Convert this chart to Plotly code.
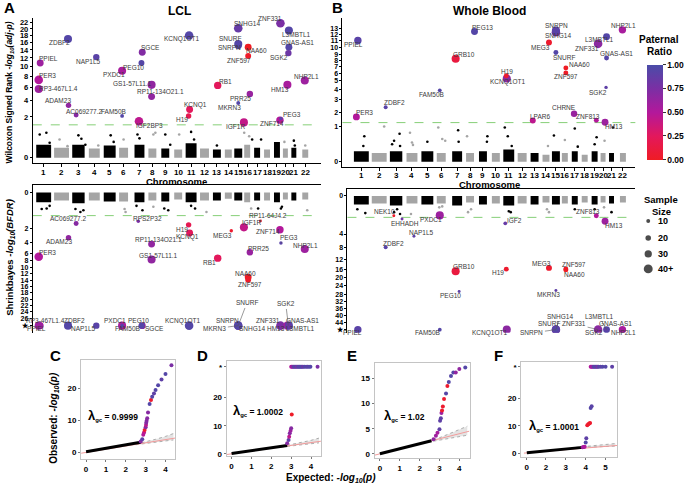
import numpy as np
import plotly.graph_objects as go

W, H = 685, 486
FONT = "Liberation Sans, Arial, sans-serif"
INF = float("inf")

# ---------------- data ----------------
CHROMS = [str(i) for i in range(1, 23)]
CHR_CENTER = [11, 29, 46, 62, 77.5, 91.5, 107.5, 120.5, 133.5, 146.5, 159.5, 173,
              185.5, 197, 207, 216, 226, 236, 246, 254.5, 263, 274.5]
CHR_WIDTH = [15, 15, 12.5, 11, 12, 9, 10, 8, 8, 8, 11, 9, 8, 7, 8, 6, 6, 6, 6, 5, 5, 6]

GENE_POS = {
    "PPIEL": 7.5, "PER3": 6, "RP3-467L1.4": 6, "ZDBF2": 35.5, "ADAM23": 36,
    "AC069277.2": 43.7, "NEK10": 43.7, "EHHADH": 52, "NAP1L5": 64, "FAM50B": 90,
    "PXDC1": 90, "GRB10": 106, "RPS2P32": 106.3, "IGF2BP3": 107, "PEG10": 109.5,
    "SGCE": 110.3, "GS1-57L11.1": 119.7, "RP11-134O21.1": 119.7, "PEG13": 125,
    "IGF2": 156, "H19": 157, "KCNQ1OT1": 157.5, "KCNQ1": 158, "LPAR6": 183.7,
    "RB1": 186.3, "MEG3": 200, "SNHG14": 207, "SNURF": 207, "SNRPN": 207,
    "MKRN3": 207, "IGF1R": 212.7, "NAA60": 217, "ZNF597": 217, "PRR25": 218.7,
    "CHRNE": 225.3, "RP11-64J4.2": 229.3, "ZNF813": 247.7, "ZNF714": 249,
    "ZNF331": 249.5, "PEG3": 250, "HM13": 256.5, "SGK2": 257.5, "L3MBTL1": 258,
    "GNAS-AS1": 258, "NHP2L1": 274,
}

LCL_RATIO = {"PPIEL": 0.6, "PER3": 0.5, "RP3-467L1.4": 0.6, "ZDBF2": 0.95, "NAP1L5": 0.92,
             "ADAM23": 0.65, "AC069277.2": 0.7, "FAM50B": 0.95, "IGF2BP3": 0.45, "PXDC1": 0.55,
             "PEG10": 0.95, "SGCE": 0.72, "GS1-57L11.1": 0.65, "RP11-134O21.1": 0.65,
             "KCNQ1OT1": 0.95, "KCNQ1": 0.25, "H19": 0.2, "RB1": 0.25, "SNHG14": 0.85,
             "SNURF": 0.95, "SNRPN": 0.95, "NAA60": 0.0, "ZNF597": 0.03, "ZNF331": 0.75,
             "L3MBTL1": 0.95, "GNAS-AS1": 0.95, "SGK2": 0.82, "NHP2L1": 0.6, "HM13": 0.55,
             "PRR25": 0.62, "MKRN3": 0.95, "IGF1R": 0.42, "ZNF714": 0.5, "PEG3": 0.92,
             "RPS2P32": 0.75, "MEG3": 0.05, "RP11-64J4.2": 0.05}
LCL_N = {"PPIEL": 28, "PER3": 38, "RP3-467L1.4": 35, "ZDBF2": 35, "NAP1L5": 25, "ADAM23": 19,
         "AC069277.2": 16, "FAM50B": 9, "IGF2BP3": 38, "PXDC1": 35, "PEG10": 22, "SGCE": 28,
         "GS1-57L11.1": 35, "RP11-134O21.1": 28, "KCNQ1OT1": 38, "KCNQ1": 28, "H19": 19,
         "RB1": 31, "SNHG14": 38, "SNURF": 35, "SNRPN": 28, "NAA60": 28, "ZNF597": 22,
         "ZNF331": 38, "L3MBTL1": 35, "GNAS-AS1": 28, "SGK2": 25, "NHP2L1": 35, "HM13": 35,
         "PRR25": 25, "MKRN3": 10, "IGF1R": 35, "ZNF714": 31, "PEG3": 7, "RPS2P32": 7,
         "MEG3": 7, "RP11-64J4.2": 4}
LCL_WILCOXON = {"PPIEL": 10.8, "PER3": 7.3, "RP3-467L1.4": 5.7, "ZDBF2": 17.0, "NAP1L5": 12.2,
                "ADAM23": 3.3, "AC069277.2": 2.2, "FAM50B": 2.1, "IGF2BP3": 1.6, "PXDC1": 9.1,
                "PEG10": 10.8, "SGCE": 13.4, "GS1-57L11.1": 6.4, "RP11-134O21.1": 4.5,
                "KCNQ1OT1": 18.0, "KCNQ1": 2.8, "H19": 2.1, "RB1": 6.3, "SNHG14": 20.2,
                "SNURF": 15.6, "SNRPN": 15.1, "NAA60": 14.7, "ZNF597": 12.5, "ZNF331": 21.8,
                "L3MBTL1": 19.5, "GNAS-AS1": 14.7, "SGK2": 13.2, "NHP2L1": 7.2, "HM13": 6.4,
                "PRR25": 4.9, "MKRN3": 3.6, "IGF1R": 1.5, "ZNF714": 1.7, "PEG3": 1.85}
LCL_SHRINK = {"AC069277.2": 1.74, "ADAM23": 3.3, "PER3": 6.8, "RPS2P32": 1.62,
              "RP11-134O21.1": 4.2, "GS1-57L11.1": 7.6, "H19": 1.82, "KCNQ1": 2.67, "RB1": 7.2,
              "MEG3": 2.36, "IGF1R": 1.96, "RP11-64J4.2": 1.6, "ZNF714": 2.23, "PEG3": 4.0,
              "NHP2L1": 5.1, "PRR25": 5.7, "NAA60": 13.0, "ZNF597": 13.8,
              "PPIEL": INF, "RP3-467L1.4": INF, "ZDBF2": INF, "NAP1L5": INF, "PXDC1": INF,
              "FAM50B": INF, "PEG10": INF, "SGCE": INF, "KCNQ1OT1": INF, "SNRPN": INF,
              "SNURF": INF, "MKRN3": INF, "SNHG14": INF, "ZNF331": INF, "HM13": INF,
              "SGK2": INF, "GNAS-AS1": INF, "L3MBTL1": INF}

BLOOD_RATIO = {"PPIEL": 0.92, "PER3": 0.5, "ZDBF2": 0.92, "FAM50B": 0.95, "GRB10": 0.12,
               "PEG13": 0.95, "H19": 0.05, "KCNQ1OT1": 0.68, "LPAR6": 0.45, "SNRPN": 0.92,
               "SNHG14": 0.78, "MEG3": 0.05, "SNURF": 0.95, "NAA60": 0.0, "ZNF597": 0.02,
               "CHRNE": 0.62, "ZNF813": 0.5, "HM13": 0.6, "SGK2": 0.9, "ZNF331": 0.68,
               "L3MBTL1": 0.95, "GNAS-AS1": 0.95, "NHP2L1": 0.55, "NEK10": 0.02, "EHHADH": 0.8,
               "PXDC1": 0.6, "NAP1L5": 0.9, "IGF2": 0.85, "PEG10": 0.9, "MKRN3": 0.9}
BLOOD_N = {"PPIEL": 31, "PER3": 28, "ZDBF2": 10, "FAM50B": 9, "GRB10": 35, "PEG13": 28,
           "H19": 16, "KCNQ1OT1": 35, "LPAR6": 22, "SNRPN": 35, "SNHG14": 38, "MEG3": 22,
           "SNURF": 16, "NAA60": 16, "ZNF597": 16, "CHRNE": 25, "ZNF813": 16, "HM13": 28,
           "SGK2": 7, "ZNF331": 38, "L3MBTL1": 28, "GNAS-AS1": 16, "NHP2L1": 31, "NEK10": 4,
           "EHHADH": 4, "PXDC1": 35, "NAP1L5": 4, "IGF2": 9, "PEG10": 4, "MKRN3": 4}
BLOOD_WILCOXON = {"PPIEL": 11.05, "PER3": 1.71, "ZDBF2": 2.42, "FAM50B": 3.93, "GRB10": 8.3,
                  "PEG13": 12.5, "H19": 5.7, "KCNQ1OT1": 5.3, "LPAR6": 1.45, "SNRPN": 12.65,
                  "SNHG14": 12.4, "MEG3": 10.75, "SNURF": 9.25, "NAA60": 6.8, "ZNF597": 6.1,
                  "CHRNE": 1.93, "ZNF813": 1.47, "HM13": 1.33, "SGK2": 4.25, "ZNF331": 10.55,
                  "L3MBTL1": 11.7, "GNAS-AS1": 8.4, "NHP2L1": 12.75}
BLOOD_SHRINK = {"NEK10": 1.1, "EHHADH": 1.5, "PXDC1": 1.05, "NAP1L5": 4.66, "ZDBF2": 7.8,
                "IGF2": 2.08, "GRB10": 16.65, "H19": 15.7, "MEG3": 15.2, "ZNF597": 15.6,
                "NAA60": 16.0, "PEG10": 26.5, "MKRN3": 26.1, "ZNF813": 1.1, "HM13": 1.8,
                "PPIEL": INF, "FAM50B": INF, "KCNQ1OT1": INF, "SNRPN": INF, "SNURF": INF,
                "SNHG14": INF, "ZNF331": INF, "SGK2": INF, "L3MBTL1": INF, "GNAS-AS1": INF,
                "NHP2L1": INF}

# dense background band height per chromosome and a few scattered points (chr, offset, value)
LCL_W_BAND = [0.2, 0.12, 0.2, 0.1, 0.18, 0.12, 0.2, 0.1, 0.1, 0.08, 0.25, 0.1, 0.08, 0.08, 0.1,
              0.2, 0.12, 0.08, 0.3, 0.1, 0.12, 0.08]
LCL_S_BAND = [0.55, 0.45, 0.6, 0.45, 0.5, 0.5, 0.55, 0.45, 0.5, 0.4, 0.55, 0.45, 0.45, 0.35,
              0.45, 0.55, 0.45, 0.45, 0.55, 0.4, 0.45, 0.4]
BLOOD_W_BAND = [0.3, 0.25, 0.3, 0.25, 0.3, 0.25, 0.3, 0.25, 0.3, 0.25, 0.35, 0.25, 0.25, 0.2,
                0.3, 0.25, 0.3, 0.2, 0.3, 0.25, 0.25, 0.25]
BLOOD_S_BAND = [0.45, 0.4, 0.5, 0.4, 0.45, 0.4, 0.5, 0.35, 0.45, 0.4, 0.5, 0.4, 0.45, 0.35,
                0.45, 0.4, 0.45, 0.35, 0.45, 0.35, 0.4, 0.35]
LCL_W_OUT = [(1, -4, 0.65), (1, 2.7, 0.75), (1, 6, 0.27), (2, -2, 0.4), (2, 6, 0.16), (3, 0, 0.6),
             (3, 3, 0.43), (3, 7, 0.2), (4, 4, 0.18), (5, 1, 0.6), (5, 4, 0.3), (6, 0, 0.4),
             (7, -2, 0.65), (7, 0, 0.45), (8, 1, 0.65), (8, 3, 0.75), (9, 0, 0.65), (9, 5, 0.2),
             (10, 1, 0.65), (11, 0, 0.8), (11, 3, 0.4), (13, 0, 0.18), (16, -3, 0.75),
             (16, 2, 0.55), (17, -5, 0.4), (17, 4, 0.4), (20, -1, 0.3), (21, 0, 0.35),
             (21, 1, 0.18), (22, 0, 0.18)]
LCL_S_OUT = [(1, -2, 0.93), (1, 3, 0.9), (1, 6, 0.75), (3, -3, 0.93), (3, 2, 1.1), (3, 5, 1.0),
             (6, 1, 0.93), (6, 2, 1.1), (7, -3, 0.75), (7, 3, 1.0), (8, 1, 0.8), (9, -1, 0.9),
             (9, 3, 1.0), (11, 0, 0.75), (11, 4, 0.9), (12, 2, 1.1), (16, 4, 0.9), (17, 1, 0.9),
             (19, 4, 0.9), (19, 5, 0.8), (22, 2, 1.0)]
BLOOD_W_OUT = [(1, 3, 0.73), (1, 2, 0.45), (2, 5, 1.02), (3, -4, 0.5), (3, -2, 0.6), (3, 3.5, 0.8),
               (3, 4, 0.45), (4, -2, 0.83), (4, 0, 0.55), (4, 1, 0.48), (5, 0, 0.57),
               (6, -3, 0.98), (6, 1, 0.65), (6, 4, 0.6), (7, 1, 0.9), (7, 1.5, 0.57),
               (8, -3, 0.73), (9, 4.5, 0.73), (9, 4, 0.57), (11, -4, 0.98), (11, -1, 0.73),
               (11, 3, 0.45), (14, 2, 0.45), (15, -2, 0.75), (16, 0, 0.62), (17, 0, 0.95),
               (17, 3, 0.43), (19, 2, 0.7), (19, 0, 0.5), (20, 1.5, 0.6), (21, 1.5, 0.98)]
BLOOD_S_OUT = [(1, -4, 0.7), (1, 4, 0.9), (3, -2, 0.85), (3, 1, 0.7), (3, 4, 0.95), (4, -1, 0.95),
               (6, -2, 0.6), (6, 1, 0.55), (8, -2, 0.85), (8, 1, 0.7), (11, 0, 0.8), (11, 2, 0.85),
               (14, 1, 0.7), (14, 3, 0.85), (17, 0, 0.7), (19, 0, 0.7), (20, 1, 0.6), (21, 0, 0.85)]
THRESHOLD = 1.3

# QQ plots
QQ_C_BULK = ([0, 2.75], [0.2, 3.2])
QQ_C_X = [2.75, 2.83, 2.88, 2.92, 2.95, 3.0, 3.02, 3.03, 3.05, 3.08, 3.12, 3.2, 3.27, 3.33, 3.42,
          3.5, 3.63, 3.8, 4.0, 4.3]
QQ_C_Y = [3.4, 4.1, 5.5, 6.2, 7.0, 7.9, 8.6, 9.3, 9.9, 10.7, 12.5, 15.1, 16.4, 17.4, 18.4, 19.5,
          21.0, 22.8, 24.5, 27.2]
QQ_C_R = [0.7, 0.9, 0.5, 0.45, 0.05, 0.7, 0.45, 0.7, 0.7, 0.7, 0.7, 0.95, 0.05, 0.95, 0.9, 0.95,
          0.95, 0.9, 0.95, 0.75]
QQ_D_BULK = ([0, 2.8], [0.1, 3.0])
QQ_D_X = [2.8, 2.87, 2.9, 2.93, 2.97, 3.0, 3.03]
QQ_D_Y = [3.8, 4.9, 6.1, 7.3, 8.2, 9.1, 14.0]
QQ_D_R = [0.7, 0.9, 0.45, 0.7, 0.6, 0.7, 0.02]
QQ_D_STAR_X = [3.0, 3.05, 3.1, 3.15, 3.2, 3.25, 3.3, 3.35, 3.4, 3.45, 3.5, 3.55, 3.6, 3.67, 3.75,
               3.82, 3.9, 3.97, 4.33]
QQ_D_STAR_R = [0.5, 0.6, 0.7, 0.95, 0.9, 0.95, 0.7, 0.95, 0.95, 0.9, 0.95, 0.95, 0.8, 0.95, 0.95,
               0.9, 0.95, 0.95, 0.75]
QQ_E_BULK = ([0, 2.6], [0.0, 2.6])
QQ_E_X = [2.7, 2.82, 2.9, 3.0, 3.03, 3.07, 3.1, 3.13, 3.17, 3.23, 3.33, 3.4, 3.47, 3.58, 3.7,
          3.82, 4.0, 4.3]
QQ_E_Y = [2.9, 3.6, 4.2, 4.9, 6.6, 7.1, 8.1, 8.6, 9.4, 10.9, 12.0, 13.5, 14.3, 15.5, 16.2, 16.2,
          16.9, 17.2]
QQ_E_R = [0.65, 0.6, 0.55, 0.9, 0.9, 0.9, 0.6, 0.05, 0.05, 0.05, 0.95, 0.05, 0.95, 0.95, 0.95,
          0.65, 0.65, 0.95]
QQ_F_BULK = ([0, 3.85], [0.1, 2.1])
QQ_F_X = [3.85, 3.9, 3.95, 4.0, 4.03, 4.08, 4.13, 4.18, 4.22, 4.25, 4.3]
QQ_F_Y = [2.1, 2.2, 2.3, 3.9, 5.4, 10.2, 10.5, 10.8, 11.0, 16.5, 17.1]
QQ_F_R = [0.55, 0.6, 0.5, 0.95, 0.9, 0.05, 0.05, 0.03, 0.05, 0.95, 0.92]
QQ_F_STAR_X = [4.25, 4.3, 4.35, 4.4, 4.45, 4.5, 4.55, 4.6, 4.65, 4.75, 4.85, 5.0, 5.33]
QQ_F_STAR_R = [0.5, 0.55, 0.6, 0.9, 0.95, 0.9, 0.95, 0.7, 0.95, 0.9, 0.95, 0.95, 0.9]
QQ_CI = {  # x, lower, upper
    "C": ([2.5, 3.0, 3.5, 4.0, 4.4], [2.4, 2.8, 3.2, 3.6, 3.9], [2.6, 3.3, 4.1, 5.0, 5.9]),
    "D": ([2.5, 3.0, 3.5, 4.0, 4.4], [2.4, 2.8, 3.2, 3.6, 3.9], [2.6, 3.3, 4.0, 4.8, 5.6]),
    "E": ([2.4, 3.0, 3.5, 4.0, 4.4], [2.3, 2.7, 3.0, 3.4, 3.7], [2.5, 3.2, 4.0, 4.8, 5.5]),
    "F": ([3.5, 4.0, 4.5, 5.0, 5.5], [2.0, 2.2, 2.3, 2.45, 2.55], [2.1, 2.4, 2.8, 3.1, 3.5]),
}
QQ_REF = {"C": ([-0.25, 4.5], [-0.25, 4.5]), "D": ([-0.25, 4.5], [-0.25, 4.5]),
          "E": ([-0.25, 4.5], [-0.25, 4.5]), "F": ([-0.3, 5.58], [0.0, 2.8])}
QQ_LAMBDA = {"C": "0.9999", "D": "1.0002", "E": "1.02", "F": "1.0001"}
STAR_QQ = {"D": 31, "F": 31.5}

SAMPLE_LEGEND = [10, 20, 30, 40]
SAMPLE_LEGEND_TEXT = ["10", "20", "30", "40+"]
RATIO_TICKS = [0, 0.25, 0.5, 0.75, 1.0]

# ---------------- styles / label placement (px offsets) ----------------
LBL_A_TOP = {"PPIEL": (8, -4.3), "PER3": (8.5, -4), "RP3-467L1.4": (20, 0), "ZDBF2": (-8.7, 4),
             "NAP1L5": (-8, 4.4), "ADAM23": (-10.7, -5), "AC069277.2": (8, -3.5),
             "FAM50B": (-8.5, -4), "IGF2BP3": (10.3, 4), "PXDC1": (-8.2, 4), "PEG10": (-8.3, 4),
             "SGCE": (8.4, -4.4), "GS1-57L11.1": (-19.4, -1.7), "RP11-134O21.1": (8.6, -5),
             "KCNQ1OT1": (-7.5, 3.6), "KCNQ1": (5.8, -4), "H19": (-7, 4), "RB1": (8.2, -4),
             "SNHG14": (8.3, -4.3), "SNURF": (-8.4, -5), "SNRPN": (-8.7, 1.7), "NAA60": (8.6, 3.3),
             "ZNF597": (-9.4, 5), "ZNF331": (-10.7, -4.3), "L3MBTL1": (7.7, 3.6),
             "GNAS-AS1": (8.7, -4.4), "SGK2": (-9, 4), "NHP2L1": (1.3, -4.3), "HM13": (-7.7, 4.3),
             "PRR25": (-8.9, 4.7), "MKRN3": (-8.7, 4), "IGF1R": (-8.2, 4), "ZNF714": (-8, 3.6),
             "PEG3": (11, -4)}
LBL_A_BOT = {"AC069277.2": (-7.5, -4.7), "ADAM23": (-9.8, 3.7), "PER3": (8.5, -4.4),
             "RPS2P32": (9, -3.3), "RP11-134O21.1": (6.8, -5), "GS1-57L11.1": (7.3, -4),
             "H19": (-7, 4.3), "KCNQ1": (-1.7, 4.3), "RB1": (-8, 4), "MEG3": (-9, 4.3),
             "IGF1R": (7.1, -5), "RP11-64J4.2": (7.2, -5.7), "ZNF714": (-12.3, 2),
             "PEG3": (8, -5.7), "NHP2L1": (0.8, -4), "PRR25": (8.3, -4), "NAA60": (-2.2, -3.3),
             "ZNF597": (1.6, 5.3), "PPIEL": (-4, 3), "RP3-467L1.4": (6.8, -5), "ZDBF2": (6.8, -5),
             "NAP1L5": (-12.4, 3), "PXDC1": (-6.7, -5), "FAM50B": (5.7, 3), "PEG10": (-2.5, -5),
             "SGCE": (12.5, 3), "KCNQ1OT1": (-7, -5), "SNRPN": (-10.7, -5),
             "SNURF": (8.6, -22.7), "MKRN3": (-23.4, 3), "SNHG14": (14, 3),
             "ZNF331": (-12.5, -5), "HM13": (-11, 3), "SGK2": (-2.6, -21.7),
             "GNAS-AS1": (13.7, -5), "L3MBTL1": (11.8, 3)}
LEAD_A_BOT = {"RP11-64J4.2", "PEG3", "SNURF", "MKRN3", "SGK2"}
LBL_B_TOP = {"PPIEL": (-4.7, 4.3), "PER3": (7.7, -4), "ZDBF2": (8.5, -4.4), "FAM50B": (-7.9, 4.3),
             "GRB10": (8.2, -4.7), "PEG13": (8.4, -4.4), "H19": (0.5, -4.3),
             "KCNQ1OT1": (0.7, 3.7), "LPAR6": (7.5, -4.3), "SNRPN": (0.4, -5),
             "SNHG14": (2, 3.7), "MEG3": (-8.8, 4.6), "SNURF": (7.9, 4.6), "NAA60": (13.2, -3.3),
             "ZNF597": (0, 4), "CHRNE": (-10, -6), "ZNF813": (-8.5, -4), "HM13": (8.6, 4),
             "SGK2": (-7.8, 5), "ZNF331": (-10.7, 4.3), "L3MBTL1": (-7.5, 3.3),
             "GNAS-AS1": (10.3, -4.3), "NHP2L1": (0.8, -4.3)}
LBL_B_BOT = {"NEK10": (-9.5, -4), "EHHADH": (3, 4.3), "PXDC1": (-9, 4), "NAP1L5": (7.8, -4),
             "ZDBF2": (7.8, -3.3), "IGF2": (8.8, -3.3), "GRB10": (8.2, -5), "H19": (-8, 3.7),
             "MEG3": (-7.7, -4.7), "ZNF597": (8.2, -4.7), "NAA60": (9, 4.3), "PEG10": (-8.2, 4),
             "MKRN3": (-7.4, 4.3), "ZNF813": (-8.5, -4), "HM13": (8.6, 3.7),
             "PPIEL": (-5.8, 3.3), "FAM50B": (-12.5, 3.3), "KCNQ1OT1": (-17.3, 3.3),
             "SNRPN": (-24, 3.3), "SNURF": (-7, -5.7), "SNHG14": (4.2, -13.3),
             "ZNF331": (-24, -5.7), "SGK2": (-12, 3.3), "L3MBTL1": (-7.5, -13.3),
             "GNAS-AS1": (9.2, -5.7), "NHP2L1": (0.8, 3.3)}
LEAD_B_BOT = {"SNRPN", "SNHG14", "ZNF331", "L3MBTL1"}

COLORSCALE = [[0.0, "#ef1c24"], [0.25, "#e3185c"], [0.5, "#b3189b"], [0.75, "#7b2fa4"],
              [1.0, "#4a4ca8"]]
LBL_FONT = dict(family=FONT, size=6.5, color="#3a3a3a")


# ---------------- scales ----------------
def piecewise(vals, px):
    vals = np.asarray(vals, float)
    px = np.asarray(px, float)

    def f(v):
        v = np.asarray(v, float)
        out = np.interp(v, vals, px)
        lo_s = (px[1] - px[0]) / (vals[1] - vals[0])
        hi_s = (px[-1] - px[-2]) / (vals[-1] - vals[-2])
        out = np.where(v < vals[0], px[0] + (v - vals[0]) * lo_s, out)
        out = np.where(v > vals[-1], px[-1] + (v - vals[-1]) * hi_s, out)
        return out
    return f


def with_star(f, star):
    def g(v):
        v = np.asarray(v, float)
        return f(np.where(np.isinf(v), star, v))
    return g


sx_A = piecewise([0, 290], [33, 323])
sx_B = piecewise([0, 290], [353, 643])
sy_A_top = lambda v: 158.3 - 28.9 * np.sqrt(np.asarray(v, float))
A_BOT_VALS = [0, 2, 4, 6, 8, 10, 12, 14, 16, 18, 20, 22, 24, 26, 28]
A_BOT_PX = [193.3, 229, 244, 255, 262, 268.5, 275, 281.5, 288, 294, 300.5, 307, 313, 319.5, 327]
sy_A_bot = with_star(piecewise(A_BOT_VALS, A_BOT_PX), 28)
B_TOP_VALS = list(range(14))
B_TOP_PX = [162.3, 127.3, 113.3, 100, 90, 81, 74, 66.7, 61, 54.3, 47.7, 41, 35, 28.3]
sy_B_top = piecewise(B_TOP_VALS, B_TOP_PX)
B_BOT_VALS = [0, 1, 2, 3, 4, 8, 12, 16, 20, 24, 28, 32, 36, 40, 44, 48]
B_BOT_PX = [196.7, 215.9, 223.8, 229.9, 235, 249, 261, 271, 279, 287, 296, 303, 310, 317, 324, 331]
sy_B_bot = with_star(piecewise(B_BOT_VALS, B_BOT_PX), 48)

fig = go.Figure()
ann = []
shapes = []
L = {}


def axes(i, x0, x1, ytop, ybot):
    xn, yn = ("xaxis", "yaxis") if i == 1 else (f"xaxis{i}", f"yaxis{i}")
    xr, yr = ("x", "y") if i == 1 else (f"x{i}", f"y{i}")
    base = dict(showgrid=False, zeroline=False, showline=False, showticklabels=False,
                ticks="", fixedrange=True)
    L[xn] = dict(base, domain=[x0 / W, x1 / W], range=[x0, x1], anchor=yr)
    L[yn] = dict(base, domain=[1 - ybot / H, 1 - ytop / H], range=[ybot, ytop], anchor=xr)
    return xr, yr, xn, yn


def P(x, y):
    return x / W, 1 - y / H


def text(x, y, s, size=9, bold=True, angle=0, xanchor="center", color="black"):
    px, py = P(x, y)
    ann.append(dict(x=px, y=py, xref="paper", yref="paper", text=f"<b>{s}</b>" if bold else s,
                    showarrow=False, textangle=angle, xanchor=xanchor, yanchor="middle",
                    font=dict(family=FONT, size=size, color=color)))


def msize(n):
    return 2.3 + 0.165 * np.asarray(n, float)


def manhattan(xr, yr, sx, sy, bands, outliers, values, ratio, nsize, labels, leaders):
    xs = sx(CHR_CENTER)
    b0 = float(sy(0))
    tops = [float(sy(b)) - b0 for b in bands]
    cols = ["#000000" if i % 2 == 0 else "#a5a5a5" for i in range(22)]
    fig.add_trace(go.Bar(x=xs, y=tops, base=b0, width=CHR_WIDTH, xaxis=xr, yaxis=yr,
                         marker=dict(color=cols, line=dict(width=0)), showlegend=False,
                         hoverinfo="skip"))
    ox = [CHR_CENTER[c - 1] + o for c, o, v in outliers]
    oy = [v for c, o, v in outliers]
    oc = ["#000000" if c % 2 == 1 else "#a5a5a5" for c, o, v in outliers]
    fig.add_trace(go.Scatter(x=sx(ox), y=sy(oy), mode="markers", xaxis=xr, yaxis=yr,
                             marker=dict(size=2.6, color=oc, line=dict(width=0)),
                             showlegend=False, hoverinfo="skip"))
    names = sorted(values, key=lambda g: -nsize[g])
    gx = sx([GENE_POS[g] for g in names])
    gy = sy([values[g] for g in names])
    fig.add_trace(go.Scatter(x=gx, y=gy, mode="markers", xaxis=xr, yaxis=yr, text=names,
                             hoverinfo="text", showlegend=False,
                             marker=dict(size=msize([nsize[g] for g in names]),
                                         color=[ratio[g] for g in names], coloraxis="coloraxis",
                                         line=dict(width=0), opacity=1)))
    for g, x, y in zip(names, gx, gy):
        dx, dy = labels.get(g, (8, -4))
        if g in leaders:
            ann.append(dict(x=float(x), y=float(y), xref=xr, yref=yr, text=g, showarrow=True,
                            ax=dx, ay=dy, arrowhead=0, arrowwidth=0.6, arrowcolor="#555",
                            standoff=0, font=LBL_FONT))
        else:
            ann.append(dict(x=float(x), y=float(y), xref=xr, yref=yr, text=g, showarrow=False,
                            xshift=dx, yshift=-dy, font=LBL_FONT))
    ty = float(sy(THRESHOLD))
    shapes.append(dict(type="line", xref=f"{xr} domain", yref=yr, x0=0, x1=1, y0=ty, y1=ty,
                       line=dict(color="#86cf78", width=1, dash="dash"), layer="below"))


def style_y(yn, tickvals, ticktext, size=7.5):
    L[yn].update(showline=True, linecolor="black", linewidth=1, ticks="outside", ticklen=2,
                 tickcolor="black", showticklabels=True, tickvals=list(map(float, tickvals)),
                 ticktext=[f"<b>{t}</b>" for t in ticktext],
                 tickfont=dict(family=FONT, size=size, color="black"))


def chrom_axis(xn, sx, label_y):
    L[xn].update(showline=True, linecolor="black", linewidth=1, ticks="outside", ticklen=3,
                 tickcolor="black", tickvals=list(map(float, sx(CHR_CENTER))),
                 showticklabels=False)
    for c, x in zip(CHROMS, sx(CHR_CENTER)):
        text(float(x), label_y, c, size=8)


# ---- Panel A top (LCL, Wilcoxon)
xr, yr, xn, yn = axes(1, 33, 323, 18, 163.3)
manhattan(xr, yr, sx_A, sy_A_top, LCL_W_BAND, LCL_W_OUT, LCL_WILCOXON, LCL_RATIO, LCL_N,
          LBL_A_TOP, set())
ticks = list(range(0, 23, 2))
style_y(yn, sy_A_top(ticks), ticks, 7.5)
chrom_axis(xn, sx_A, 173)

# ---- Panel A bottom (LCL, Shrinkbayes)
xr, yr, xn, yn = axes(2, 33, 323, 186, 334)
manhattan(xr, yr, sx_A, sy_A_bot, LCL_S_BAND, LCL_S_OUT, LCL_SHRINK, LCL_RATIO, LCL_N,
          LBL_A_BOT, LEAD_A_BOT)
ticks = A_BOT_VALS
style_y(yn, sy_A_bot(ticks), [str(t) for t in ticks[:-1]] + ["★"], 7)
L[xn].update(showline=True, linecolor="black", linewidth=1, side="top")

# ---- Panel B top (Blood, Wilcoxon)
xr, yr, xn, yn = axes(3, 345, 640, 18, 168)
manhattan(xr, yr, sx_B, sy_B_top, BLOOD_W_BAND, BLOOD_W_OUT, BLOOD_WILCOXON, BLOOD_RATIO,
          BLOOD_N, LBL_B_TOP, set())
style_y(yn, sy_B_top(B_TOP_VALS), B_TOP_VALS, 7)
chrom_axis(xn, sx_B, 176)

# ---- Panel B bottom (Blood, Shrinkbayes)
xr, yr, xn, yn = axes(4, 350, 640, 190, 334)
manhattan(xr, yr, sx_B, sy_B_bot, BLOOD_S_BAND, BLOOD_S_OUT, BLOOD_SHRINK, BLOOD_RATIO,
          BLOOD_N, LBL_B_BOT, LEAD_B_BOT)
bt = [0, 4, 8, 12, 16, 20, 24, 28, 32, 36, 40, 44, 48]
style_y(yn, sy_B_bot(bt), [str(t) for t in bt[:-1]] + ["★"], 7)
L[xn].update(showline=True, linecolor="black", linewidth=1, side="top")

# ---- QQ panels
QQ_GEOM = {
    "C": dict(i=5, box=(81.7, 176.7, 361.7, 461), xk=([0, 4], [86.7, 166.7]),
              yk=([0, 20], [454.3, 390]), xt=[0, 1, 2, 3, 4], yt=[0, 10, 20], lam=(87, 417)),
    "D": dict(i=6, box=(228.3, 323.3, 362.3, 458), xk=([0, 4], [233.3, 313.3]),
              yk=([0, 20], [455.7, 399.3]), xt=[0, 1, 2, 3, 4], yt=[0, 10, 20], lam=(233, 412)),
    "E": dict(i=7, box=(377.3, 473.3, 364.3, 460), xk=([0, 4], [382.7, 462.7]),
              yk=([0, 15], [455.7, 380]), xt=[0, 1, 2, 3, 4], yt=[0, 5, 10, 15], lam=(385, 417)),
    "F": dict(i=8, box=(525, 621.7, 363.3, 459), xk=([0, 2, 3, 4, 5], [530.7, 550, 570, 590, 610]),
              yk=([0, 20], [455, 400]), xt=[0, 2, 3, 4, 5], yt=[0, 10, 20], lam=(531, 427)),
}
QQ_DATA = {
    "C": (QQ_C_BULK, QQ_C_X, QQ_C_Y, QQ_C_R, [], []),
    "D": (QQ_D_BULK, QQ_D_X, QQ_D_Y, QQ_D_R, QQ_D_STAR_X, QQ_D_STAR_R),
    "E": (QQ_E_BULK, QQ_E_X, QQ_E_Y, QQ_E_R, [], []),
    "F": (QQ_F_BULK, QQ_F_X, QQ_F_Y, QQ_F_R, QQ_F_STAR_X, QQ_F_STAR_R),
}
for key, gm in QQ_GEOM.items():
    x0, x1, yt0, yb0 = gm["box"]
    xr, yr, xn, yn = axes(gm["i"], x0, x1, yt0, yb0)
    sx = piecewise(*gm["xk"])
    sy = piecewise(*gm["yk"])
    bulk, px_, py_, pr_, sxs, srs = QQ_DATA[key]
    cx, clo, chi = QQ_CI[key]
    fig.add_trace(go.Scatter(x=sx(cx), y=sy(clo), mode="lines", xaxis=xr, yaxis=yr,
                             line=dict(color="#9a9a9a", width=0.8, dash="dot"),
                             showlegend=False, hoverinfo="skip"))
    fig.add_trace(go.Scatter(x=sx(cx), y=sy(chi), mode="lines", xaxis=xr, yaxis=yr, fill="tonexty",
                             fillcolor="rgba(205,205,205,0.55)",
                             line=dict(color="#9a9a9a", width=0.8, dash="dot"),
                             showlegend=False, hoverinfo="skip"))
    rx, ry = QQ_REF[key]
    fig.add_trace(go.Scatter(x=sx(rx), y=sy(ry), mode="lines", xaxis=xr, yaxis=yr,
                             line=dict(color="#f29b9b", width=1), showlegend=False,
                             hoverinfo="skip"))
    fig.add_trace(go.Scatter(x=sx(bulk[0]), y=sy(bulk[1]), mode="lines", xaxis=xr, yaxis=yr,
                             line=dict(color="black", width=3), showlegend=False,
                             hoverinfo="skip"))
    allx = list(px_) + list(sxs)
    star_px = float(sy(STAR_QQ.get(key, 0)))
    ally_px = list(sy(py_)) + [star_px] * len(sxs)
    allr = list(pr_) + list(srs)
    fig.add_trace(go.Scatter(x=sx(allx), y=ally_px, mode="markers", xaxis=xr, yaxis=yr,
                             marker=dict(size=4, color=allr, coloraxis="coloraxis",
                                         line=dict(width=0)),
                             showlegend=False, hoverinfo="skip"))
    L[xn].update(showline=True, mirror=True, linecolor="#c4c4c4", linewidth=1,
                 ticks="outside", ticklen=2, tickcolor="#777", showticklabels=True,
                 tickvals=list(map(float, sx(gm["xt"]))),
                 ticktext=[f"<b>{t}</b>" for t in gm["xt"]],
                 tickfont=dict(family=FONT, size=8, color="black"))
    yvals = list(map(float, sy(gm["yt"])))
    ytext = [f"<b>{t}</b>" for t in gm["yt"]]
    if key in STAR_QQ:
        yvals.append(star_px)
        ytext.append("<b>*</b>")
    L[yn].update(showline=True, mirror=True, linecolor="#c4c4c4", linewidth=1,
                 ticks="outside", ticklen=2, tickcolor="#777", showticklabels=True,
                 tickvals=yvals, ticktext=ytext,
                 tickfont=dict(family=FONT, size=8, color="black"))
    lx, ly = gm["lam"]
    px, py = P(lx, ly)
    ann.append(dict(x=px, y=py, xref="paper", yref="paper", xanchor="left", yanchor="middle",
                    showarrow=False,
                    text=f"<b><span style='font-size:13px'>λ</span><sub>gc</sub> = {QQ_LAMBDA[key]}</b>",
                    font=dict(family=FONT, size=8.5, color="black")))

# ---- sample-size legend on an overlay axis covering the page
xr, yr, xn, yn = axes(9, 0, W, 0, H)
LEG_Y = [222, 239, 255, 270]
fig.add_trace(go.Scatter(x=[653] * 4, y=LEG_Y, mode="markers", xaxis=xr, yaxis=yr,
                         marker=dict(size=msize(SAMPLE_LEGEND), color="black", line=dict(width=0)),
                         showlegend=False, hoverinfo="skip"))
for t, y in zip(SAMPLE_LEGEND_TEXT, LEG_Y):
    text(661, y, t, size=9, xanchor="left")
text(666, 200, "Sample", size=9.5)
text(666, 212, "Size", size=9.5)

# ---- titles & panel letters
text(10, 8, "A", size=15)
text(340, 8, "B", size=15)
text(56, 357, "C", size=15)
text(204, 357, "D", size=15)
text(355, 357, "E", size=15)
text(502, 357, "F", size=15)
text(181, 11, "LCL", size=12)
text(493, 11, "Whole Blood", size=12)
text(178, 182.5, "Chromosome", size=9.5)
text(493, 185.5, "Chromosome", size=9.5)
text(10, 93, "Wilcoxon Signed Rank <i>-log<sub>10</sub>(adj-p)</i>", size=8.5, angle=-90)
text(10, 258, "Shrinkbayes <i>-log<sub>10</sub>(BFDR)</i>", size=9.5, angle=-90)
text(55, 420, "Observed: <i>-log<sub>10</sub>(p)</i>", size=10, angle=-90)
text(333, 479.5, "Expected: <i>-log<sub>10</sub>(p)</i>", size=10)
text(664, 40, "Paternal", size=10)
text(664, 52, "Ratio", size=10)

fig.update_layout(
    width=W, height=H, margin=dict(l=0, r=0, t=0, b=0),
    paper_bgcolor="white", plot_bgcolor="rgba(0,0,0,0)",
    font=dict(family=FONT, size=8, color="black"),
    showlegend=False, annotations=ann, shapes=shapes,
    coloraxis=dict(colorscale=COLORSCALE, cmin=0, cmax=1,
                   colorbar=dict(x=652 / W, xanchor="left", xpad=0, ypad=0,
                                 y=1 - 65 / H, yanchor="top", len=95, lenmode="pixels",
                                 thickness=16, thicknessmode="pixels", outlinewidth=0,
                                 tickvals=RATIO_TICKS,
                                 ticktext=[f"<b>{v:.2f}</b>" for v in RATIO_TICKS],
                                 ticks="outside", ticklen=3, tickcolor="#333",
                                 tickfont=dict(family=FONT, size=8.5, color="black"))),
    **L,
)

fig.write_html("out.html", include_plotlyjs=True, full_html=True,
               config={"displayModeBar": False, "staticPlot": True},
               post_script="document.body.style.margin='0';document.body.style.overflow='hidden';")
